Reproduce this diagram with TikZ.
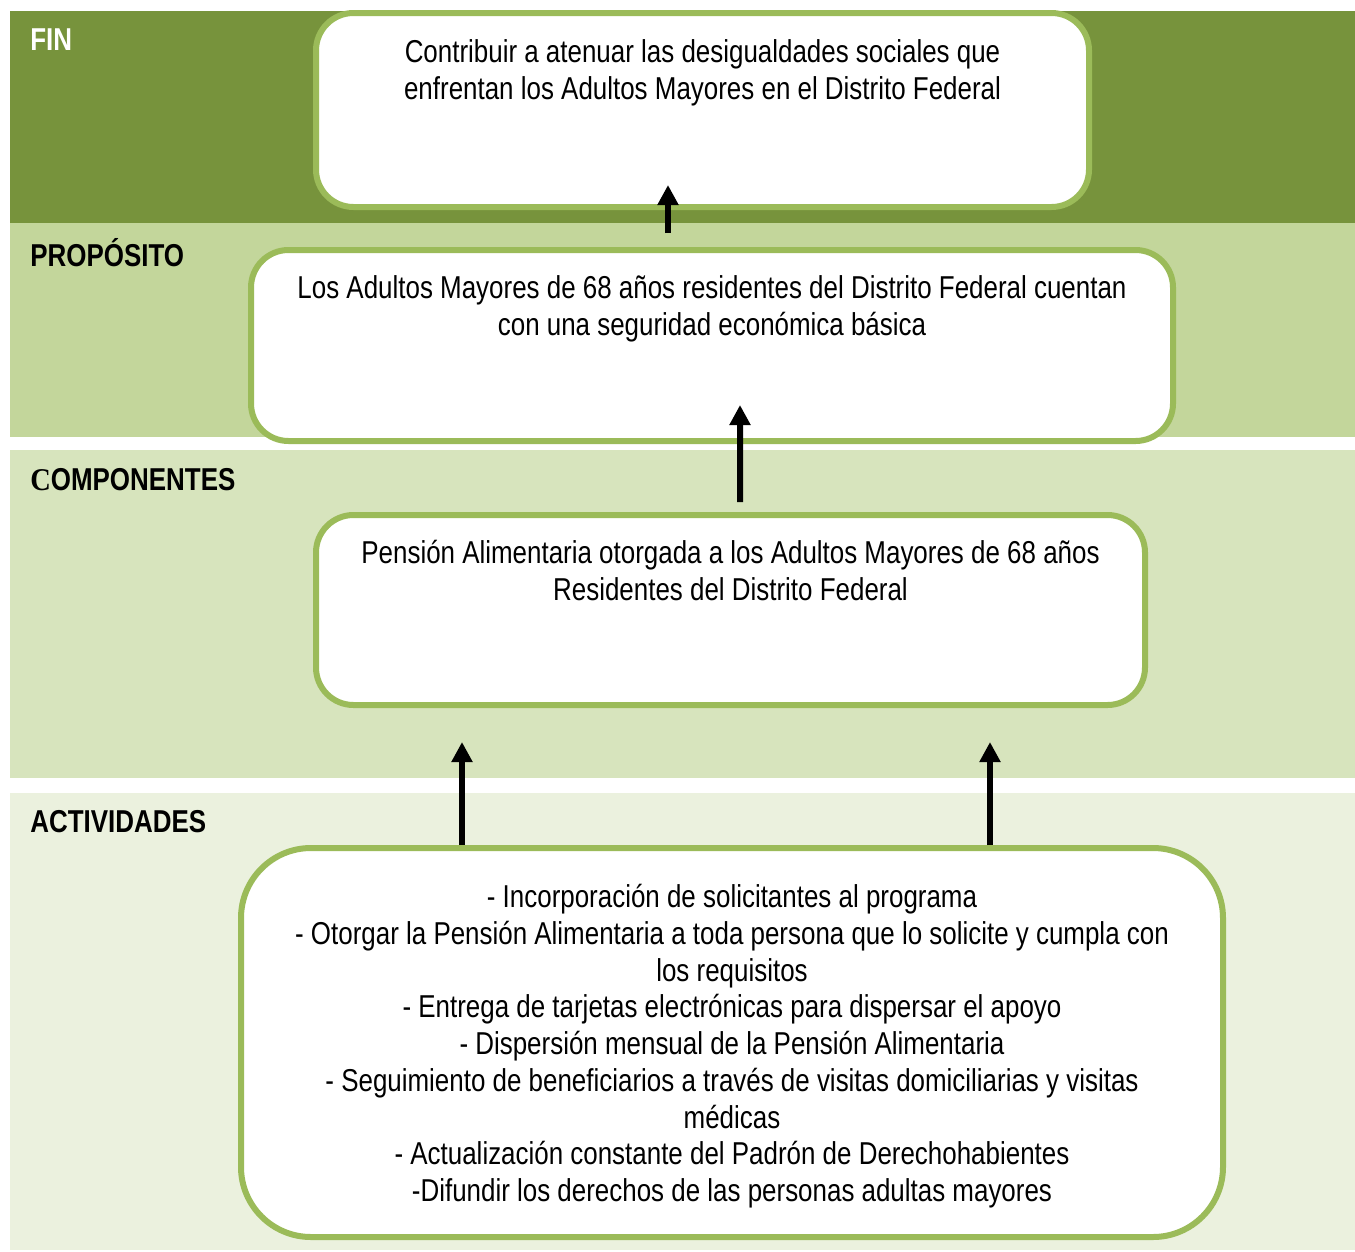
\documentclass[tikz,border=0pt]{standalone}
\usepackage{fontspec}
\setmainfont{Liberation Sans}[FakeStretch=0.82]
\newfontfamily\serifcap{Liberation Serif}[FakeStretch=0.9]
\usetikzlibrary{arrows.meta}
\usetikzlibrary{positioning}
\usetikzlibrary{calc}

\definecolor{finband}{HTML}{77933C}
\definecolor{propband}{HTML}{C3D69B}
\definecolor{compband}{HTML}{D7E4BD}
\definecolor{actband}{HTML}{EBF1DE}
\definecolor{boxline}{HTML}{9BBB59}

\begin{document}
\begin{tikzpicture}[
    >={Triangle[length=0.4cm,width=0.4cm]},
    band/.style={draw=none, inner sep=0pt, outer sep=0pt},
    tag/.style={anchor=west, inner sep=0pt, font=\fontsize{18}{21}\selectfont\bfseries},
    goalbox/.style={draw=boxline, fill=white, line width=0.12cm, rounded corners=0.75cm},
    boxtext/.style={inner sep=0pt, align=center, font=\fontsize{18}{20.9}\selectfont},
    up/.style={->, line width=0.12cm}
]
    \useasboundingbox (0,0) rectangle (27.1,-25.02);

    % bands
    \fill[finband] (0.2,-0.22) rectangle (27.1,-4.46);
    \fill[propband] (0.2,-4.46) rectangle (27.1,-8.74);
    \fill[compband] (0.2,-9.0) rectangle (27.1,-15.56);
    \fill[actband] (0.2,-15.86) rectangle (27.1,-25.0);

    \node[tag, text=white] (fin) at (0.6,-0.8) {FIN};
    \node[tag] (prop) at (0.6,-5.06) {PROPÓSITO};
    \node[tag] (comp) at (0.6,-9.6) {{\serifcap C}OMPONENTES};
    \node[tag] (act) at (0.6,-16.44) {ACTIVIDADES};

    % boxes
    \node[goalbox, minimum width=15.46cm, minimum height=3.88cm] (fbox) at (14.05,-2.2) {};
    \node[boxtext, below=0.58cm of fbox.north] (ftext)
        {Contribuir a atenuar las desigualdades sociales que\\
         enfrentan los Adultos Mayores en el Distrito Federal};

    \node[goalbox, minimum width=18.44cm, minimum height=3.82cm] (pbox) at (14.24,-6.91) {};
    \node[boxtext, below=0.56cm of pbox.north] (ptext)
        {Los Adultos Mayores de 68 años residentes del Distrito Federal cuentan\\
         con una seguridad económica básica};

    \node[goalbox, minimum width=16.58cm, minimum height=3.8cm] (cbox) at (14.61,-12.2) {};
    \node[boxtext, below=0.56cm of cbox.north] (ctext)
        {Pensión Alimentaria otorgada a los Adultos Mayores de 68 años\\
         Residentes del Distrito Federal};

    \node[goalbox, rounded corners=1.4cm, minimum width=19.64cm, minimum height=7.78cm] (abox) at (14.64,-20.85) {};
    \node[boxtext, below=0.78cm of abox.north] (atext)
        {- Incorporación de solicitantes al programa\\
         - Otorgar la Pensión Alimentaria a toda persona que lo solicite y cumpla con\\
         los requisitos\\
         - Entrega de tarjetas electrónicas para dispersar el apoyo\\
         - Dispersión mensual de la Pensión Alimentaria\\
         - Seguimiento de beneficiarios a través de visitas domiciliarias y visitas\\
         médicas\\
         - Actualización constante del Padrón de Derechohabientes\\
         -Difundir los derechos de las personas adultas mayores};

    % arrows
    \draw[up] ([xshift=-0.88cm,yshift=0.28cm]pbox.north) -- ([xshift=-0.69cm,yshift=0.5cm]fbox.south);
    \draw[up] ([xshift=0.19cm,yshift=0.2cm]cbox.north) -- ([xshift=0.56cm,yshift=0.78cm]pbox.south);
    \draw[up] ([xshift=-5.4cm]abox.north) -- ([xshift=-5.37cm,yshift=-0.68cm]cbox.south);
    \draw[up] ([xshift=5.16cm]abox.north) -- ([xshift=5.19cm,yshift=-0.68cm]cbox.south);
\end{tikzpicture}
\end{document}
